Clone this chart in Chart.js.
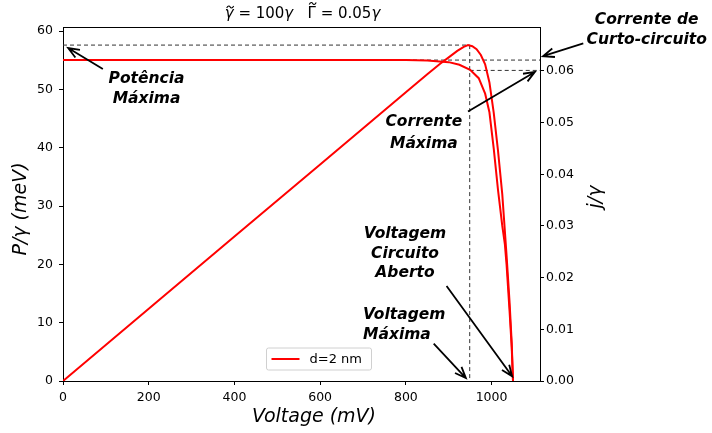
<!DOCTYPE html>
<html>
<head>
<meta charset="utf-8">
<script src="https://cdn.jsdelivr.net/npm/chart.js@4"></script>
<style>
html, body { margin: 0; padding: 0; background: #fff; }
</style>
</head>
<body>
<canvas id="myChart" width="712" height="433"></canvas>
<script>
// power curve P/gamma (meV) vs voltage (mV)
const powerV = [0, 200, 400, 600, 800, 850, 880, 900, 920, 935, 945, 955, 965, 975, 985, 995, 1005, 1015, 1025, 1035, 1042, 1047, 1050];
const powerP = [0, 12.38, 24.76, 37.14, 49.52, 52.6, 54.4, 55.5, 56.6, 57.3, 57.6, 57.4, 56.9, 55.9, 54.3, 51.2, 46.0, 39.5, 32.0, 21.5, 13.5, 6.5, 0];
// current curve j/gamma vs voltage (mV)
const currentV = [0, 200, 400, 600, 800, 850, 900, 925, 950, 970, 985, 995, 1005, 1015, 1025, 1031, 1035, 1042, 1047, 1050];
const currentJ = [0.0621, 0.0621, 0.0621, 0.0621, 0.0621, 0.0620, 0.0617, 0.0612, 0.0602, 0.0586, 0.0556, 0.0520, 0.0450, 0.0370, 0.0300, 0.0265, 0.0225, 0.0135, 0.0065, 0];
// marked points
const vMax = 949;
const pMax = 57.6;
const jMax = 0.0601;
const jSc = 0.0621;

Chart.defaults.font.family = "'DejaVu Sans', sans-serif";
Chart.defaults.color = '#000';

const notes = [
  { lines: ['Potência', 'Máxima'], at: [195, [51.8, 48.3]], align: 'center', from: [93, 53.5], to: [12, 57.1] },
  { lines: ['Corrente de', 'Curto-circuito'], at: [1362, [61.9, 58.5]], align: 'center', from: [1214, 57.9], to: [1120, 55.7] },
  { lines: ['Corrente', 'Máxima'], at: [842, [44.4, 40.7]], align: 'center', from: [945, 46.2], to: [1101, 53.0] },
  { lines: ['Voltagem', 'Circuito', 'Aberto'], at: [798, [25.2, 21.8, 18.5]], align: 'center', from: [895, 16.3], to: [1048, 0.8] },
  { lines: ['Voltagem', 'Máxima'], at: [700, [11.4, 7.9]], align: 'left', from: [865, 6.4], to: [940, 0.5] }
];

function arrow(ctx, x0, y0, x1, y1) {
  const a = Math.atan2(y1 - y0, x1 - x0);
  const h = 12, s = 0.38;
  ctx.beginPath();
  ctx.moveTo(x0, y0);
  ctx.lineTo(x1, y1);
  ctx.moveTo(x1 - h * Math.cos(a - s), y1 - h * Math.sin(a - s));
  ctx.lineTo(x1, y1);
  ctx.lineTo(x1 - h * Math.cos(a + s), y1 - h * Math.sin(a + s));
  ctx.stroke();
}

// draws text pieces one after another, each with its own font; third item = tilde height above centre
function pieces(ctx, parts, cx, cy) {
  let w = 0;
  parts.forEach(p => { ctx.font = p[1]; w += ctx.measureText(p[0]).width; });
  let x = cx - w / 2;
  ctx.textAlign = 'left';
  parts.forEach(p => {
    ctx.font = p[1];
    const pw = ctx.measureText(p[0]).width;
    ctx.fillText(p[0], x, cy);
    if (p[2]) {
      const mx = x + pw / 2 + 1, my = cy - p[2];
      ctx.save();
      ctx.lineWidth = 1.1;
      ctx.strokeStyle = '#000';
      ctx.beginPath();
      ctx.moveTo(mx - 3.5, my + 1);
      ctx.bezierCurveTo(mx - 2, my - 2, mx - 0.5, my - 1, mx, my);
      ctx.bezierCurveTo(mx + 0.5, my + 1, mx + 2, my + 2, mx + 3.5, my - 1);
      ctx.stroke();
      ctx.restore();
    }
    x += pw;
  });
}

const extras = {
  id: 'extras',
  beforeDatasetsDraw(chart) {
    const { ctx, chartArea: ca, scales } = chart;
    const X = v => scales.x.getPixelForValue(v);
    const Y = v => scales.y.getPixelForValue(v);
    const Y2 = v => scales.y2.getPixelForValue(v);
    ctx.save();
    ctx.strokeStyle = '#333';
    ctx.lineWidth = 1;
    ctx.setLineDash([4, 3]);
    ctx.beginPath();
    ctx.moveTo(X(0), Y(pMax)); ctx.lineTo(X(vMax), Y(pMax));
    ctx.moveTo(X(0), Y2(jSc)); ctx.lineTo(ca.right, Y2(jSc));
    ctx.moveTo(X(vMax), Y2(jMax)); ctx.lineTo(ca.right, Y2(jMax));
    ctx.moveTo(X(vMax), Y(pMax)); ctx.lineTo(X(vMax), Y(0));
    ctx.stroke();
    ctx.restore();
  },
  afterDraw(chart) {
    const { ctx, chartArea: ca, scales } = chart;
    const X = v => scales.x.getPixelForValue(v);
    const Y = v => scales.y.getPixelForValue(v);
    ctx.save();
    // top spine
    ctx.strokeStyle = '#000';
    ctx.lineWidth = 1;
    ctx.beginPath();
    ctx.moveTo(ca.left, ca.top + 0.5);
    ctx.lineTo(ca.right, ca.top + 0.5);
    ctx.stroke();

    // title
    ctx.fillStyle = '#000';
    ctx.textBaseline = 'middle';
    const rf = "15px 'DejaVu Sans'", itf = "italic 15px 'DejaVu Sans'";
    pieces(ctx, [['γ', itf, 7], [' = 100', rf], ['γ', itf], ['   ', rf], ['Γ', rf, 10.5], [' = 0.05', rf], ['γ', itf]],
      (ca.left + ca.right) / 2 + 1, 14);

    // axis titles
    ctx.textAlign = 'center';
    ctx.font = "italic 19px 'DejaVu Sans'";
    ctx.fillText('Voltage (mV)', 314, 417);
    ctx.save();
    ctx.translate(21, 209);
    ctx.rotate(-Math.PI / 2);
    ctx.fillText('P/γ (meV)', 0, 0);
    ctx.restore();
    ctx.save();
    ctx.translate(596, 197);
    ctx.rotate(-Math.PI / 2);
    ctx.fillText('j/γ', 0, 0);
    ctx.restore();

    // annotations
    ctx.font = "italic bold 15.5px 'DejaVu Sans'";
    ctx.strokeStyle = '#000';
    ctx.lineWidth = 1.8;
    notes.forEach(n => {
      ctx.textAlign = n.align;
      n.lines.forEach((t, i) => ctx.fillText(t, X(n.at[0]), Y(n.at[1][i])));
      arrow(ctx, X(n.from[0]), Y(n.from[1]), X(n.to[0]), Y(n.to[1]));
    });

    // legend
    const lx = ca.left + 203.5, ly = ca.bottom - 33, lw = 105, lh = 22;
    ctx.fillStyle = 'rgba(255,255,255,0.8)';
    ctx.strokeStyle = '#d0d0d0';
    ctx.lineWidth = 1;
    ctx.beginPath();
    ctx.roundRect(lx, ly, lw, lh, 2);
    ctx.fill();
    ctx.stroke();
    ctx.strokeStyle = '#ff0000';
    ctx.lineWidth = 2;
    ctx.beginPath();
    ctx.moveTo(lx + 5, ly + lh / 2);
    ctx.lineTo(lx + 33, ly + lh / 2);
    ctx.stroke();
    ctx.fillStyle = '#000';
    ctx.textAlign = 'left';
    ctx.font = "13px 'DejaVu Sans'";
    ctx.fillText('d=2 nm', lx + 43, ly + lh / 2 + 1);
    ctx.restore();
  }
};

const tickFont = { size: 12.5 };
const data = {
  datasets: [{
    label: 'd=2 nm',
    data: powerV.map((v, i) => ({ x: v, y: powerP[i] })),
    borderColor: '#ff0000',
    borderWidth: 2,
    pointRadius: 0,
    yAxisID: 'y'
  },
  {
    label: 'current',
    data: currentV.map((v, i) => ({ x: v, y: currentJ[i] })),
    borderColor: '#ff0000',
    borderWidth: 2,
    pointRadius: 0,
    yAxisID: 'y2'
  }]
};

const config = {
  type: 'line',
  data: data,
  options: {
    responsive: false,
    animation: false,
    layout: { padding: { top: 27, left: 0, right: 0, bottom: 0 } },
    plugins: { legend: { display: false }, tooltip: { enabled: false } },
    scales: {
      x: {
        type: 'linear', min: 0, max: 1113,
        ticks: { stepSize: 200, includeBounds: false, font: tickFont, color: '#000', padding: 5, maxRotation: 0,
          callback: v => String(v) },
        grid: { drawOnChartArea: false, tickLength: 4, color: '#000' },
        border: { color: '#000' },
        afterFit: s => { s.height = 52; }
      },
      y: {
        position: 'left', min: 0, max: 60.7,
        ticks: { stepSize: 10, includeBounds: false, font: tickFont, color: '#000', padding: 6 },
        grid: { drawOnChartArea: false, tickLength: 4, color: '#000' },
        border: { color: '#000' },
        afterFit: s => { s.width = 63; }
      },
      y2: {
        position: 'right', min: 0, max: 0.0685,
        ticks: { stepSize: 0.01, includeBounds: false, font: tickFont, color: '#000', padding: 2,
          callback: v => v.toFixed(2) },
        grid: { drawOnChartArea: false, tickLength: 4, color: '#000' },
        border: { color: '#000' },
        afterFit: s => { s.width = 172; }
      }
    }
  },
  plugins: [extras]
};

const myChart = new Chart(document.getElementById('myChart'), config);
</script>
</body>
</html>
